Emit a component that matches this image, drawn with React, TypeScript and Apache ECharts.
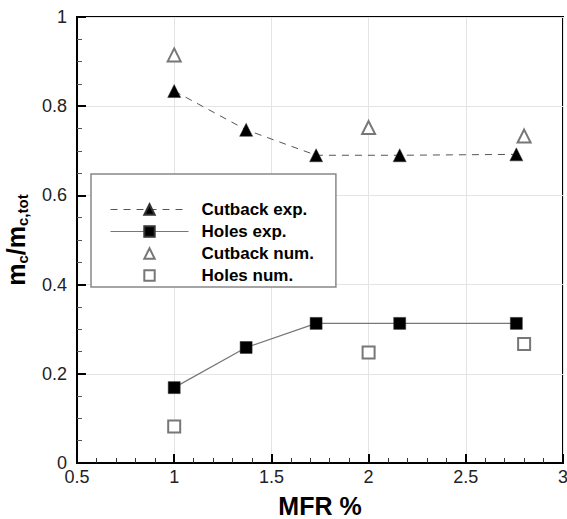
import React, { useEffect, useRef } from "react";
import * as echarts from "echarts";

const xTicks = ["0.5", "1", "1.5", "2", "2.5", "3"];
const yTicks = ["0", "0.2", "0.4", "0.6", "0.8", "1"];

const cutbackExpX = [1.0, 1.37, 1.73, 2.16, 2.76];
const cutbackExpY = [0.834, 0.747, 0.69, 0.69, 0.692];
const holesExpX = [1.0, 1.37, 1.73, 2.16, 2.76];
const holesExpY = [0.169, 0.259, 0.313, 0.313, 0.313];
const cutbackNumX = [1.0, 2.0, 2.8];
const cutbackNumY = [0.915, 0.752, 0.733];
const holesNumX = [1.0, 2.0, 2.8];
const holesNumY = [0.082, 0.248, 0.267];

const seriesNames = ["Cutback exp.", "Holes exp.", "Cutback num.", "Holes num."];

const zip = (xs: number[], ys: number[]) => xs.map((x, i) => [x, ys[i]]);

export default function App() {
  const ref = useRef<HTMLDivElement>(null);
  useEffect(() => {
    if (!ref.current) return;
    const chart = echarts.init(ref.current, null, { renderer: "svg" });
    const font = "Liberation Sans, Arial, sans-serif";
    chart.setOption({
      animation: false,
      backgroundColor: "#fff",
      grid: {
        left: 77,
        right: 4,
        top: 17,
        bottom: 56,
        show: true,
        borderColor: "#000",
        borderWidth: 2,
        containLabel: false,
        outerBoundsMode: "none",
      },
      legend: {
        orient: "vertical",
        left: 91,
        top: 174,
        padding: [27, 22, 3, 19],
        itemWidth: 78,
        itemHeight: 13,
        itemGap: 5,
        backgroundColor: "#fff",
        borderColor: "#888",
        borderWidth: 1.5,
        borderRadius: 0,
        selectedMode: false,
        lineStyle: { width: 1 },
        textStyle: {
          fontFamily: font,
          fontWeight: "bold",
          fontSize: 17,
          lineHeight: 17,
          color: "#000",
          padding: [0, 0, 0, 8],
        },
        data: [
          { name: seriesNames[0] },
          { name: seriesNames[1] },
          { name: seriesNames[2], lineStyle: { color: "rgba(0,0,0,0)", width: 0 }, itemStyle: { borderWidth: 1 } },
          { name: seriesNames[3], lineStyle: { color: "rgba(0,0,0,0)", width: 0 }, itemStyle: { borderWidth: 1 } },
        ],
      },
      xAxis: {
        type: "value",
        min: 0.5,
        max: 3,
        interval: 0.5,
        name: "MFR %",
        nameLocation: "middle",
        nameGap: 30,
        nameTextStyle: { fontFamily: font, fontWeight: "bold", fontSize: 25, color: "#000" },
        axisLine: { show: true, onZero: false, lineStyle: { color: "#000", width: 2 } },
        axisTick: { show: true, inside: true, length: 9, lineStyle: { color: "#000", width: 2 } },
        minorTick: { show: true, splitNumber: 5, length: 5, lineStyle: { color: "#333", width: 1 } },
        splitLine: { show: true, lineStyle: { color: "#e4e4e4", width: 1 } },
        axisLabel: {
          margin: 5,
          fontFamily: font,
          fontSize: 18,
          color: "#222",
          formatter: (v: number) => {
            const s = xTicks.find((t) => Math.abs(parseFloat(t) - v) < 1e-9);
            return s ?? String(v);
          },
        },
      },
      yAxis: {
        type: "value",
        min: 0,
        max: 1,
        interval: 0.2,
        name: "{m|m}{s|c}{m|/m}{s|c,tot}",
        nameLocation: "middle",
        nameGap: 47,
        nameTextStyle: {
          rich: {
            m: { fontFamily: font, fontWeight: "bold", fontSize: 25, lineHeight: 28, color: "#000", verticalAlign: "middle" },
            s: { fontFamily: font, fontWeight: "bold", fontSize: 15, lineHeight: 15, color: "#000", verticalAlign: "bottom" },
          },
        },
        axisLine: { show: true, onZero: false, lineStyle: { color: "#000", width: 2 } },
        axisTick: { show: true, inside: true, length: 9, lineStyle: { color: "#000", width: 2 } },
        minorTick: { show: true, splitNumber: 4, length: 5, lineStyle: { color: "#555", width: 1 } },
        splitLine: { show: true, lineStyle: { color: "#e4e4e4", width: 1 } },
        axisLabel: {
          margin: 10,
          fontFamily: font,
          fontSize: 18,
          color: "#222",
          formatter: (v: number) => {
            const s = yTicks.find((t) => Math.abs(parseFloat(t) - v) < 1e-9);
            return s ?? String(v);
          },
        },
      },
      series: [
        {
          name: seriesNames[0],
          type: "line",
          data: zip(cutbackExpX, cutbackExpY),
          symbol: "triangle",
          symbolSize: 13,
          showSymbol: true,
          lineStyle: { color: "#555", width: 1, type: [7, 6] },
          itemStyle: { color: "#000", borderColor: "#333", borderWidth: 0.5 },
          z: 3,
        },
        {
          name: seriesNames[1],
          type: "line",
          data: zip(holesExpX, holesExpY),
          symbol: "rect",
          symbolSize: 12,
          showSymbol: true,
          lineStyle: { color: "#777", width: 1.2, type: "solid" },
          itemStyle: { color: "#000", borderColor: "#333", borderWidth: 0.5 },
          z: 3,
        },
        {
          name: seriesNames[2],
          type: "line",
          data: zip(cutbackNumX, cutbackNumY),
          symbol: "emptyTriangle",
          symbolSize: 13,
          showSymbol: true,
          lineStyle: { color: "rgba(0,0,0,0)", width: 0 },
          itemStyle: { color: "#777", borderColor: "#777", borderWidth: 1 },
          z: 3,
        },
        {
          name: seriesNames[3],
          type: "line",
          data: zip(holesNumX, holesNumY),
          symbol: "emptyRect",
          symbolSize: 12,
          showSymbol: true,
          lineStyle: { color: "rgba(0,0,0,0)", width: 0 },
          itemStyle: { color: "#777", borderColor: "#777", borderWidth: 1 },
          z: 3,
        },
      ],
    });
    return () => chart.dispose();
  }, []);
  return <div ref={ref} style={{ position: "fixed", left: 0, top: 0, width: 567, height: 519 }} />;
}
